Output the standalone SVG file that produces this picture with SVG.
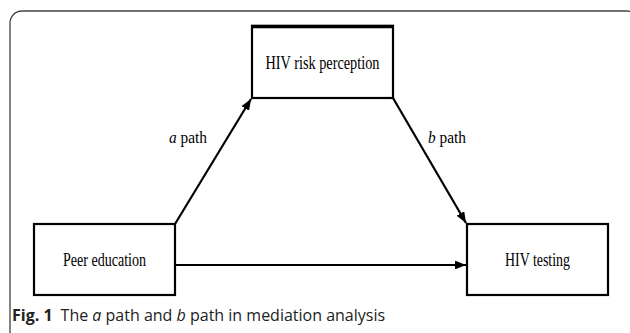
<svg xmlns="http://www.w3.org/2000/svg" width="630" height="333" viewBox="0 0 630 333">
<style>
.box{fill:#fff;stroke:#000;stroke-width:2.2}
.lbl{font-family:"Liberation Serif","Times New Roman",serif;font-size:19px;fill:#000;text-anchor:middle}
.elbl{font-family:"Liberation Serif","Times New Roman",serif;font-size:17.5px;fill:#000;text-anchor:start}
.edge{fill:none;stroke:#000;stroke-width:2.2}
.cap{font-family:"Open Sans","Noto Sans",sans-serif;font-size:16px;fill:#222}
</style>
<defs>
<marker id="ah" viewBox="0 0 10 8" refX="10" refY="4" markerWidth="5" markerHeight="4" markerUnits="strokeWidth" orient="auto">
<path d="M0,0 L10,4 L0,8 z" fill="#000"/>
</marker>
</defs>
<rect x="10" y="11" width="629" height="340" rx="12" fill="#fff" stroke="#444" stroke-width="1.3"/>
<g id="connectors">
<line class="edge" x1="175" y1="224" x2="251" y2="99" marker-end="url(#ah)"/>
<line class="edge" x1="393" y1="98" x2="466" y2="223" marker-end="url(#ah)"/>
<line class="edge" x1="175" y1="265" x2="466" y2="265" marker-end="url(#ah)"/>
<text class="elbl" transform="translate(169,143) scale(0.88,1)"><tspan font-style="italic">a</tspan> path</text>
<text class="elbl" transform="translate(428,143) scale(0.88,1)"><tspan font-style="italic">b</tspan> path</text>
</g>
<g id="node-risk">
<rect class="box" x="252" y="26" width="141" height="72"/>
<line x1="251" y1="26.5" x2="394" y2="26.5" stroke="#000" stroke-width="3.5"/>
<text class="lbl" x="322.5" y="68.5" textLength="114" lengthAdjust="spacingAndGlyphs">HIV risk perception</text>
</g>
<g id="node-peer">
<rect class="box" x="34" y="224" width="141" height="71"/>
<text class="lbl" x="104.5" y="266" textLength="83" lengthAdjust="spacingAndGlyphs">Peer education</text>
</g>
<g id="node-testing">
<rect class="box" x="467" y="224" width="141" height="71"/>
<text class="lbl" x="537.5" y="266" textLength="65" lengthAdjust="spacingAndGlyphs">HIV testing</text>
</g>
<text class="cap" x="12" y="321"><tspan font-weight="bold">Fig. 1</tspan><tspan dx="8">The </tspan><tspan font-style="italic">a</tspan><tspan> path and </tspan><tspan font-style="italic">b</tspan><tspan> path in mediation analysis</tspan></text>
</svg>
